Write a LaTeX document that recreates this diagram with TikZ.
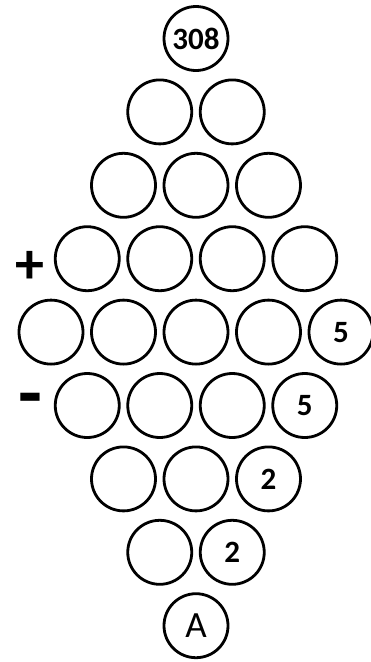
\documentclass[tikz,border=0pt]{standalone}
\usepackage{fontspec}
\setmainfont{Carlito}
\usetikzlibrary{positioning}
\tikzset{
  ball/.style={circle,draw=black,line width=2.8pt,minimum size=64pt,
               inner sep=0pt,outer sep=0pt},
  num/.style={font=\bfseries\fontsize{31}{31}\selectfont,inner sep=0pt},
  letter/.style={font=\fontsize{37}{37}\selectfont,inner sep=0pt},
  sign/.style={font=\bfseries\fontsize{58}{58}\selectfont,inner sep=0pt},
}
\begin{document}
\begin{tikzpicture}[x=1pt,y=-1pt]
  \useasboundingbox (0,0) rectangle (370,662);
  % diamond of balls, row by row
  \foreach \r in {0,...,8}{
    \pgfmathtruncatemacro{\n}{\r<5 ? \r+1 : 9-\r}
    \foreach \k in {1,...,\n}{
      \node[ball] (b-\r-\k) at ({196+(\k-(\n+1)/2)*72.5},{38.5+73.4*\r}) {};
    }
  }
  % given numbers
  \node[num] (top) at (b-0-1) {308};
  \node[num] (five1) at (b-4-5) {5};
  \node[num] (five2) at (b-5-4) {5};
  \node[num] (two1) at (b-6-3) {2};
  \node[num] (two2) at (b-7-2) {2};
  \node[letter] (ans) at (b-8-1) {A};
  % signs
  \node[sign] (plus) at (30,267) {+};
  \node[sign,font=\bfseries\fontsize{78}{78}\selectfont] (minus) at (30,406) {-};
\end{tikzpicture}
\end{document}
